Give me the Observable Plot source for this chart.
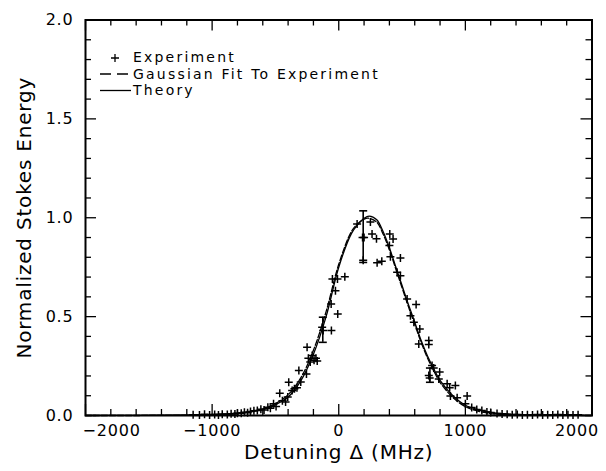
<!DOCTYPE html>
<html><head><meta charset="utf-8">
<script src="https://cdn.jsdelivr.net/npm/d3@7"></script>
<script src="https://cdn.jsdelivr.net/npm/@observablehq/plot@0.6"></script>
<style>body{margin:0;background:#fff} #chart svg{display:block}</style>
</head><body><div id="chart"></div>
<script>
const xMajorTicks = [-2000, -1000, 0, 1000, 2000];
const xMinorTicks = [-1800,-1600,-1400,-1200,-800,-600,-400,-200,200,400,600,800,1200,1400,1600,1800];
const yMajorTicks = [0, 0.5, 1, 1.5, 2];
const yMinorTicks = [0.1,0.2,0.3,0.4,0.6,0.7,0.8,0.9,1.1,1.2,1.3,1.4,1.6,1.7,1.8,1.9];
const xTickLabels = ["\u22122000", "\u22121000", "0", "1000", "2000"];
const yTickLabels = ["0.0", "0.5", "1.0", "1.5", "2.0"];
const xTitle = "Detuning \u0394 (MHz)";
const yTitle = "Normalized Stokes Energy";
const legendLabels = ["Experiment", "Gaussian Fit To Experiment", "Theory"];

// Experimental points [detuning MHz, normalized energy]
const experiment = [
  [-1150,0.004],[-1100,0.003],[-1060,0.006],[-1020,0.003],[-980,0.005],[-950,0.002],[-920,0.006],
  [-880,0.005],[-850,0.009],[-820,0.007],[-800,0.011],[-770,0.012],[-745,0.016],[-720,0.014],
  [-697,0.02],[-670,0.024],[-643,0.025],[-615,0.032],[-590,0.028],[-560,0.042],[-540,0.037],
  [-515,0.059],[-495,0.045],[-466,0.113],[-445,0.075],[-420,0.068],[-403,0.093],[-395,0.168],
  [-368,0.126],[-350,0.135],[-330,0.14],[-315,0.227],[-300,0.17],[-255,0.21],[-250,0.345],
  [-240,0.29],[-225,0.27],[-210,0.303],[-195,0.28],[-180,0.29],[-170,0.275],[-131,0.446],
  [-123,0.43],[-60,0.564],[-58,0.43],[-50,0.69],[-26,0.631],[-10,0.69],[-8,0.513],[48,0.702],
  [145,0.968],[188,0.90],[200,0.90],[193,0.785],[250,0.978],[263,0.918],[298,0.894],[303,0.772],
  [340,0.78],[400,0.86],[403,0.918],[408,0.803],[429,0.893],[461,0.724],[487,0.796],[487,0.707],
  [540,0.589],[566,0.505],[593,0.471],[611,0.561],[632,0.362],[640,0.438],[711,0.379],[711,0.359],
  [711,0.202],[718,0.19],[737,0.253],[750,0.24],[790,0.185],[797,0.22],[856,0.16],[876,0.14],
  [882,0.099],[921,0.152],[935,0.09],[1000,0.06],[1014,0.099],[1050,0.04],[1090,0.03],[1130,0.025],
  [1170,0.018],[1200,0.015],[1250,0.01],[1290,0.008],[1330,0.006],[1370,0.004],[1410,0.005],
  [1450,0.003],[1490,0.004],[1530,0.002],[1570,0.005],[1610,0.003],[1650,0.004],[1690,0.002],
  [1730,0.005],[1770,0.003],[1810,0.004],[1850,0.002],[1890,0.004]
];
// Error bars [detuning, low, high]
const errorBars = [[-126,0.37,0.497],[193,0.774,1.035],[720,0.168,0.24]];

// Theory curve (solid)
const theory = [
  [-2000,0],[-1600,0.001],[-1400,0.002],[-1200,0.003],[-1000,0.005],[-900,0.008],[-800,0.012],
  [-700,0.019],[-600,0.03],[-500,0.054],[-400,0.093],[-300,0.175],[-200,0.31],[-100,0.5],
  [0,0.75],[100,0.92],[150,0.965],[200,0.997],[240,1.008],[300,0.99],[350,0.93],[400,0.848],
  [450,0.752],[500,0.657],[550,0.562],[600,0.472],[650,0.38],[700,0.302],[750,0.236],[800,0.178],
  [900,0.101],[1000,0.052],[1100,0.03],[1200,0.016],[1300,0.009],[1400,0.005],[1600,0.002],
  [1800,0.001],[2000,0]
];
// Gaussian fit to experiment (dashed)
const gaussFit = [
  [-2000,0],[-1600,0],[-1400,0.001],[-1200,0.001],[-1000,0.003],[-900,0.006],[-800,0.011],
  [-700,0.019],[-600,0.033],[-500,0.06],[-400,0.105],[-300,0.19],[-200,0.33],[-100,0.525],
  [0,0.765],[100,0.93],[150,0.97],[200,0.993],[230,0.998],[300,0.978],[350,0.918],[400,0.838],
  [450,0.742],[500,0.646],[550,0.551],[600,0.461],[650,0.371],[700,0.292],[750,0.226],[800,0.168],
  [900,0.092],[1000,0.045],[1100,0.022],[1200,0.01],[1300,0.005],[1400,0.002],[1600,0.001],
  [2000,0]
];

const W = 606, H = 471, mL = 85, mR = 14.5, mT = 19.5, mB = 56;
const innerW = W - mL - mR, innerH = H - mT - mB;
const majorLen = 11, minorLen = 6;

const plusSymbol = {draw(ctx, size) { const r = Math.sqrt(size / Math.PI); ctx.moveTo(-r, 0); ctx.lineTo(r, 0); ctx.moveTo(0, -r); ctx.lineTo(0, r); }};
const capSymbol = {draw(ctx, size) { const r = Math.sqrt(size / Math.PI); ctx.moveTo(-r, 0); ctx.lineTo(r, 0); }};

const tickStyle = {stroke: "black", strokeWidth: 1.3};
const xLabel = d => xTickLabels[xMajorTicks.indexOf(d)];
const xAxisCommon = {tickSize: 0, tickPadding: 9, fontSize: 16, tickFormat: xLabel, label: null};

const chart = Plot.plot({
  width: W, height: H,
  marginLeft: mL, marginRight: mR, marginTop: mT, marginBottom: mB,
  x: {domain: [-2000, 2000]},
  y: {domain: [0, 2]},
  style: {fontFamily: "'DejaVu Sans', sans-serif", fontSize: "16px", letterSpacing: "0.8px", color: "black", background: "white"},
  marks: [
    // inward ticks on all four sides
    Plot.tickX(xMajorTicks, {x: d => d, insetTop: innerH - majorLen, ...tickStyle}),
    Plot.tickX(xMinorTicks, {x: d => d, insetTop: innerH - minorLen, ...tickStyle}),
    Plot.tickX(xMajorTicks, {x: d => d, insetBottom: innerH - majorLen, ...tickStyle}),
    Plot.tickX(xMinorTicks, {x: d => d, insetBottom: innerH - minorLen, ...tickStyle}),
    Plot.tickY(yMajorTicks, {y: d => d, insetRight: innerW - majorLen, ...tickStyle}),
    Plot.tickY(yMinorTicks, {y: d => d, insetRight: innerW - minorLen, ...tickStyle}),
    Plot.tickY(yMajorTicks, {y: d => d, insetLeft: innerW - majorLen, ...tickStyle}),
    Plot.tickY(yMinorTicks, {y: d => d, insetLeft: innerW - minorLen, ...tickStyle}),
    Plot.axisX({ticks: xMajorTicks.slice(1, -1), ...xAxisCommon}),
    Plot.axisX({ticks: xMajorTicks.slice(0, 1), ...xAxisCommon, textAnchor: "start", dx: -3}),
    Plot.axisX({ticks: xMajorTicks.slice(-1), ...xAxisCommon, textAnchor: "end", dx: 7}),
    Plot.axisY({ticks: yMajorTicks, tickSize: 0, tickPadding: 12, fontSize: 16,
      tickFormat: d => yTickLabels[yMajorTicks.indexOf(d)], label: null}),
    Plot.text([xTitle], {frameAnchor: "bottom", dy: 37, fontSize: 20, lineAnchor: "middle", textAnchor: "middle", text: d => d}),
    Plot.text([yTitle], {frameAnchor: "left", dx: -61, rotate: -90, fontSize: 20, lineAnchor: "middle", textAnchor: "middle", text: d => d}),
    // curves
    Plot.line(gaussFit, {x: d => d[0], y: d => d[1], stroke: "black", strokeWidth: 1.3, strokeDasharray: "6,2", curve: "catmull-rom"}),
    Plot.line(theory, {x: d => d[0], y: d => d[1], stroke: "black", strokeWidth: 1.3, curve: "catmull-rom"}),
    // error bars
    Plot.ruleX(errorBars, {x: d => d[0], y1: d => d[1], y2: d => d[2], stroke: "black", strokeWidth: 1.6}),
    Plot.dot(errorBars, {x: d => d[0], y: d => d[1], symbol: capSymbol, r: 4, stroke: "black", strokeWidth: 1.6}),
    Plot.dot(errorBars, {x: d => d[0], y: d => d[2], symbol: capSymbol, r: 4, stroke: "black", strokeWidth: 1.6}),
    // experiment
    Plot.dot(experiment, {x: d => d[0], y: d => d[1], symbol: plusSymbol, r: 4, stroke: "black", strokeWidth: 1.5}),
    Plot.frame({stroke: "black", strokeWidth: 2})
  ]
});
document.getElementById("chart").appendChild(chart);

// legend (inside plot, top-left)
const svg = d3.select(chart);
const lg = svg.append("g").attr("stroke", "black").attr("stroke-width", 1.3).attr("fill", "none");
lg.append("path").attr("d", "M111,58H119M115,54V62");
lg.append("path").attr("d", "M100,74H111M117,74H128");
lg.append("path").attr("d", "M100,90.5H131");
const lt = svg.append("g").attr("font-family", "'DejaVu Sans', sans-serif").attr("font-size", 14)
  .attr("letter-spacing", "2.2px").attr("fill", "black").attr("text-anchor", "start");
[57.5, 74, 90.5].forEach((y, i) => {
  lt.append("text").attr("x", 133).attr("y", y).attr("dy", "0.35em").text(legendLabels[i]);
});
</script>
</body></html>
